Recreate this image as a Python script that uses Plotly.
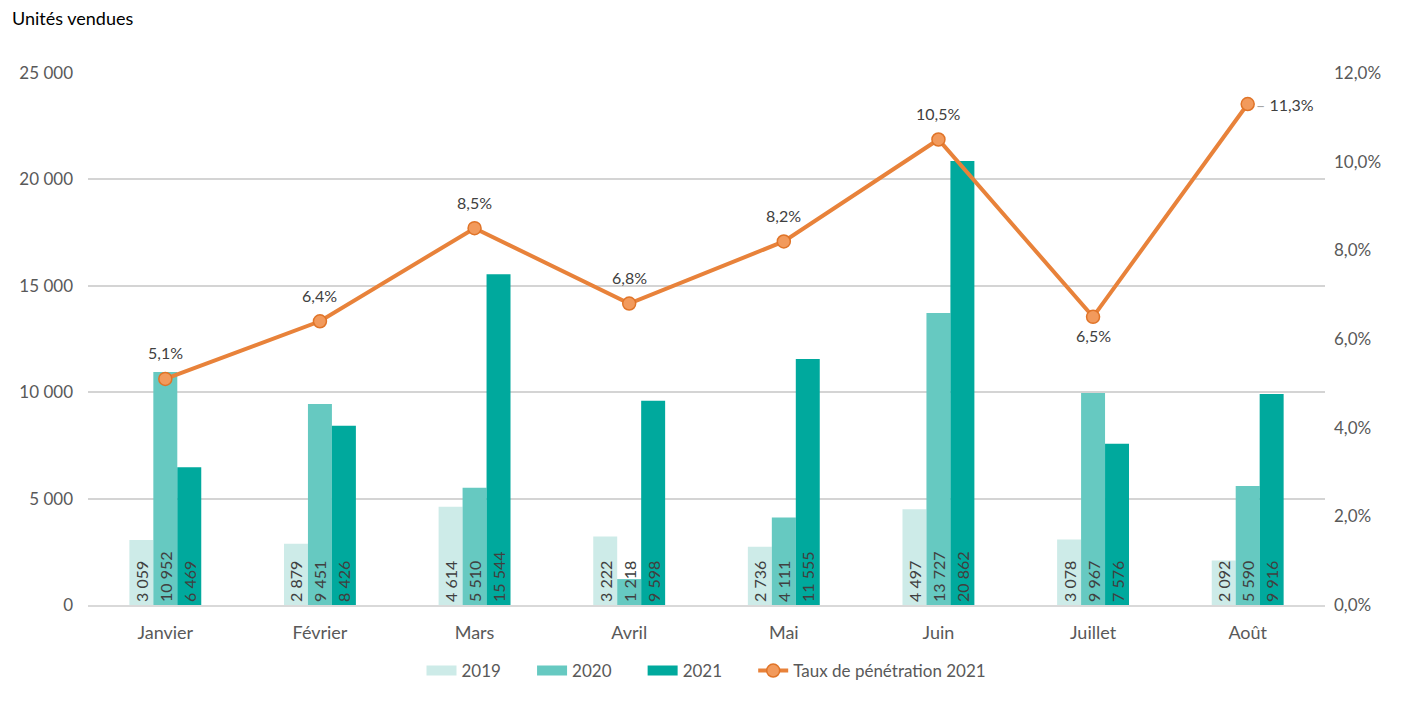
import plotly.graph_objects as go

months = ["Janvier", "Février", "Mars", "Avril", "Mai", "Juin", "Juillet", "Août"]
v2019 = [3059, 2879, 4614, 3222, 2736, 4497, 3078, 2092]
v2020 = [10952, 9451, 5510, 1218, 4111, 13727, 9967, 5590]
v2021 = [6469, 8426, 15544, 9598, 11555, 20862, 7576, 9916]
taux = [0.051, 0.064, 0.085, 0.068, 0.082, 0.105, 0.065, 0.113]
taux_pos = ["above", "above", "above", "above", "above", "above", "below", "right"]

FONT = "Lato, 'Open Sans', sans-serif"
TXT = "#404040"
series = [("2019", v2019, "#CDEBE8"), ("2020", v2020, "#66C9C1"), ("2021", v2021, "#00A99D")]

fig = go.Figure()
for name, vals, col in series:
    fig.add_trace(go.Bar(
        x=months, y=vals, name=name, showlegend=False,
        marker=dict(color=col, line=dict(width=0)),
        texttemplate="%{y:,d}", textposition="inside", insidetextanchor="start",
        textangle=-90, constraintext="none",
        insidetextfont=dict(family=FONT, size=16, color=TXT),
        outsidetextfont=dict(family=FONT, size=16, color=TXT),
        cliponaxis=False, hoverinfo="skip",
    ))

# legend entries drawn as wide colour swatches
for name, vals, col in series:
    fig.add_trace(go.Scatter(
        x=[None], y=[None], name=name + "\u00a0" * 6, mode="lines",
        line=dict(color=col, width=10), hoverinfo="skip",
    ))

fig.add_trace(go.Scatter(
    x=months, y=taux, name="Taux de pénétration 2021", yaxis="y2",
    mode="lines+markers",
    line=dict(color="#E8823A", width=4),
    marker=dict(symbol="circle", size=13, color="#F29A5C",
                line=dict(color="#E07428", width=1.5)),
    cliponaxis=False,
))

annotations = [dict(text="Unités vendues", xref="paper", yref="paper",
                    x=-0.063, y=1.103, xanchor="left", yanchor="middle",
                    showarrow=False, font=dict(size=18, color="#000000"))]
for m, t, p in zip(months, taux, taux_pos):
    s = f"{t*100:.1f}%".replace(".", ",")
    a = dict(text=s, x=m, y=t, xref="x", yref="y2", showarrow=False,
             font=dict(family=FONT, size=16, color=TXT))
    if p == "above":
        a.update(yshift=26)
    elif p == "below":
        a.update(yshift=-19)
    else:
        a.update(text="<span style='color:#A6A6A6'>–</span> " + s,
                 xanchor="left", xshift=6)
    annotations.append(a)

fig.update_layout(
    width=1404, height=702,
    paper_bgcolor="white", plot_bgcolor="white",
    separators=", ",
    font=dict(family=FONT, size=17, color="#595959"),
    margin=dict(l=88, r=79, t=73, b=97),
    barmode="group", bargap=0.535, bargroupgap=0,
    xaxis=dict(showgrid=False, showline=True, linecolor="#D9D9D9", linewidth=2,
               ticks="", ticklabelstandoff=10,
               tickfont=dict(size=18, color="#595959")),
    yaxis=dict(range=[0, 25000], dtick=5000, tickformat=",d",
               showgrid=True, gridcolor="#D4D4D4", gridwidth=2,
               zeroline=False, showline=False, ticks="", ticklabelstandoff=14,
               tickfont=dict(size=17, color="#595959")),
    yaxis2=dict(range=[0, 0.12], dtick=0.02, tickformat=".1%", overlaying="y",
                side="right", showgrid=False, zeroline=False, showline=False,
                ticks="", ticklabelstandoff=8,
                tickfont=dict(size=17, color="#595959")),
    legend=dict(orientation="h", x=0.5, xanchor="center", y=-0.124,
                yanchor="middle", font=dict(size=17, color="#595959"),
                traceorder="normal"),
    annotations=annotations,
)

fig.write_html("out.html", config={"displayModeBar": False},
               post_script="document.body.style.margin='0';")
